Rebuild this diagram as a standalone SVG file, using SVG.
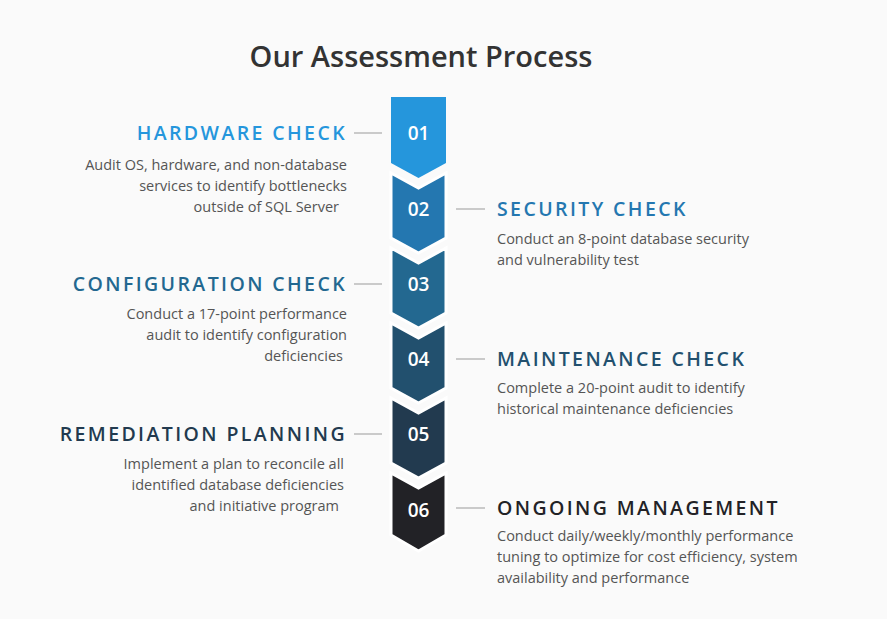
<svg xmlns="http://www.w3.org/2000/svg" width="887" height="619" viewBox="0 0 887 619">
<style>
.t{font-family:"Open Sans","Liberation Sans",sans-serif;font-size:19.5px;font-weight:600;letter-spacing:2.4px}
.b{font-family:"Open Sans","Liberation Sans",sans-serif;font-size:14.5px;fill:#555}
.n{font-family:"Open Sans","Liberation Sans",sans-serif;font-size:19px;font-weight:600;fill:#fff;text-anchor:middle}
.l{stroke:#aaa;stroke-width:1.2}
.s{stroke:#fff;stroke-width:3;stroke-linejoin:miter}
</style>
<rect width="887" height="619" fill="#fafafa"/>
<text x="421" y="67" text-anchor="middle" font-family="'Open Sans','Liberation Sans',sans-serif" font-size="29" font-weight="600" fill="#333">Our Assessment Process</text>
<g id="chevrons">
<path class="s" fill="#222226" d="M391,473 L418.5,488 L446,473 L446,535 L418.5,551 L391,535Z"/>
<path class="s" fill="#223a4f" d="M391,398 L418.5,413 L446,398 L446,463 L418.5,478 L391,463Z"/>
<path class="s" fill="#22506e" d="M391,323 L418.5,338 L446,323 L446,388 L418.5,403 L391,388Z"/>
<path class="s" fill="#236890" d="M391,248 L418.5,263 L446,248 L446,313 L418.5,328 L391,313Z"/>
<path class="s" fill="#2477b0" d="M391,173 L418.5,188 L446,173 L446,238 L418.5,253 L391,238Z"/>
<path fill="#2596dc" d="M391,97 L446,97 L446,163 L418.5,178 L391,163Z"/>
<text class="n" x="418.5" y="140">01</text>
<text class="n" x="418.5" y="216">02</text>
<text class="n" x="418.5" y="291">03</text>
<text class="n" x="418.5" y="366">04</text>
<text class="n" x="418.5" y="441">05</text>
<text class="n" x="418.5" y="517">06</text>
</g>
<g id="connectors">
<line class="l" x1="354" y1="133" x2="382" y2="133"/>
<line class="l" x1="456" y1="209" x2="485" y2="209"/>
<line class="l" x1="354" y1="284" x2="382" y2="284"/>
<line class="l" x1="456" y1="359" x2="485" y2="359"/>
<line class="l" x1="354" y1="434" x2="382" y2="434"/>
<line class="l" x1="456" y1="508" x2="485" y2="508"/>
</g>
<g id="n1" text-anchor="end"><text class="t" x="347" y="140" fill="#2596dc">HARDWARE CHECK</text>
<text class="b" x="347" y="170">Audit OS, hardware, and non-database</text><text class="b" x="347" y="191">services to identify bottlenecks</text><text class="b" x="339" y="212">outside of SQL Server</text></g>
<g id="n2"><text class="t" x="497" y="216" fill="#2477b0">SECURITY CHECK</text>
<text class="b" x="497" y="244">Conduct an 8-point database security</text><text class="b" x="497" y="265">and vulnerability test</text></g>
<g id="n3" text-anchor="end"><text class="t" x="347" y="291" fill="#236890">CONFIGURATION CHECK</text>
<text class="b" x="347" y="319">Conduct a 17-point performance</text><text class="b" x="347" y="340">audit to identify configuration</text><text class="b" x="343" y="361">deficiencies</text></g>
<g id="n4"><text class="t" x="497" y="366" fill="#22506e">MAINTENANCE CHECK</text>
<text class="b" x="497" y="393">Complete a 20-point audit to identify</text><text class="b" x="497" y="414">historical maintenance deficiencies</text></g>
<g id="n5" text-anchor="end"><text class="t" x="347" y="441" fill="#223a4f">REMEDIATION PLANNING</text>
<text class="b" x="344" y="469">Implement a plan to reconcile all</text><text class="b" x="344" y="490">identified database deficiencies</text><text class="b" x="339" y="511">and initiative program</text></g>
<g id="n6"><text class="t" x="497" y="515" fill="#222226">ONGOING MANAGEMENT</text>
<text class="b" x="497" y="541">Conduct daily/weekly/monthly performance</text><text class="b" x="497" y="562">tuning to optimize for cost efficiency, system</text><text class="b" x="497" y="583">availability and performance</text></g>
</svg>
